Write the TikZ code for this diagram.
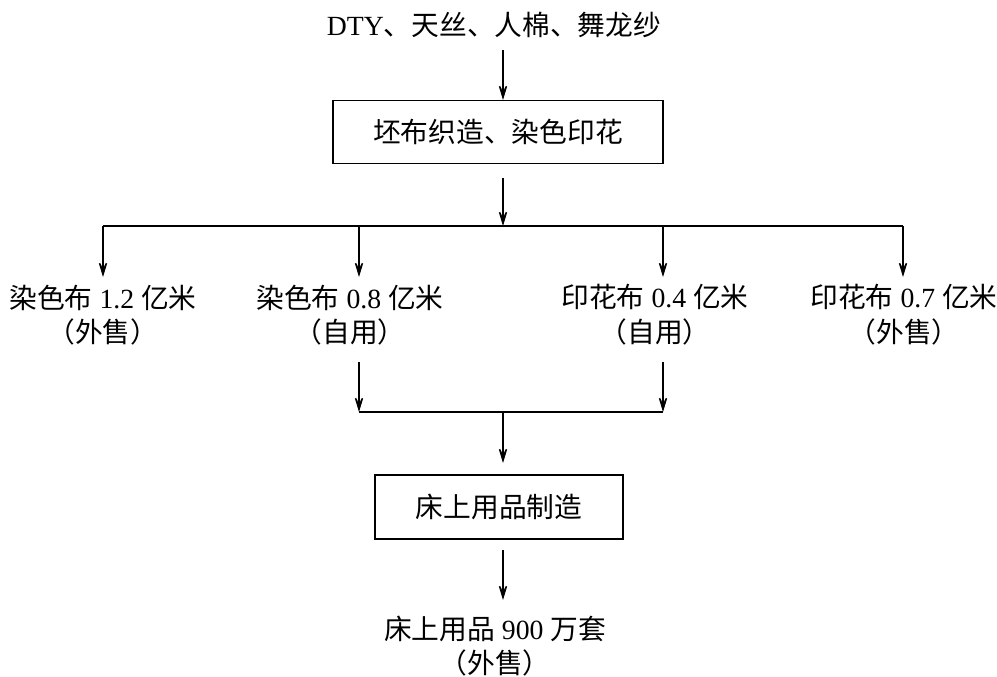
\documentclass[tikz,border=0pt]{standalone}
\usepackage{fontspec}
\setmainfont{Liberation Serif}
\newfontfamily\cjk{Noto Sans CJK SC}
\usetikzlibrary{arrows.meta}
\newcommand{\zh}[1]{{\cjk #1}}
\tikzset{
    flow/.style={line width=1.1pt},
    arr/.style={flow,-{Stealth[length=18pt,width=11pt,inset=12pt]}},
    stepbox/.style={draw,line width=1.1pt,inner sep=0pt,font=\fontsize{20.8}{26}\selectfont},
    lbl/.style={align=center,inner sep=0pt,font=\fontsize{20.8}{26}\selectfont}
}
\begin{document}
\begin{tikzpicture}[x=0.75pt,y=-0.75pt]
\useasboundingbox (0,0) rectangle (997,677);
\node[lbl] (yarn) at (494,25) {DTY\zh{、天丝、人棉、舞龙纱}};
\node[stepbox,minimum width=247.5pt,minimum height=47.25pt] (weave) at (498,132) {\zh{坯布织造、染色印花}};
\node[lbl] (dye1) at (103,315) {\zh{染色布} 1.2 \zh{亿米}\\\zh{（外售）}};
\node[lbl] (dye2) at (350,315) {\zh{染色布} 0.8 \zh{亿米}\\\zh{（自用）}};
\node[lbl] (print1) at (655,315) {\zh{印花布} 0.4 \zh{亿米}\\\zh{（自用）}};
\node[lbl] (print2) at (904,315) {\zh{印花布} 0.7 \zh{亿米}\\\zh{（外售）}};
\node[stepbox,minimum width=186pt,minimum height=48pt] (bed) at (499,507) {\zh{床上用品制造}};
\node[lbl] (goods) at (495,646) {\zh{床上用品} 900 \zh{万套}\\\zh{（外售）}};
\coordinate (split) at (503,226);
\coordinate (merge) at (503,412);
\draw[arr] (503,50) -- (503,100);
\draw[arr] (503,178) -- (split);
\draw[flow] (103,226) -- (903,226);
\foreach \x in {103,359,663,903}
    \draw[arr] (\x,226) -- (\x,277);
\foreach \x in {359,663}
    \draw[arr] (\x,362) -- (\x,412);
\draw[flow] (359,412) -- (663,412);
\draw[arr] (merge) -- (503,463);
\draw[arr] (503,550) -- (503,600);
\end{tikzpicture}
\end{document}
